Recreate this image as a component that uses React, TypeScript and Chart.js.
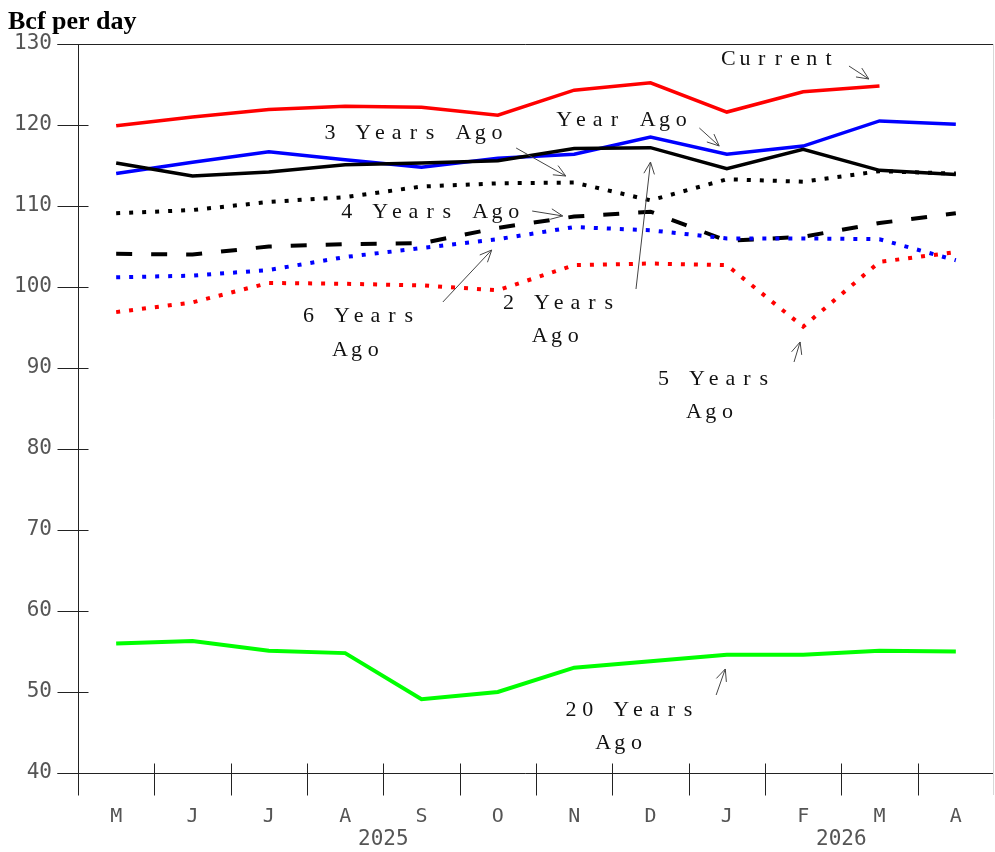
import React, { useEffect, useRef } from "react";
import { Chart, registerables } from "chart.js";

Chart.register(...registerables);

const months = ["M", "J", "J", "A", "S", "O", "N", "D", "J", "F", "M", "A"];
const yearLabels = [
  { afterIndex: 3, text: "2025" },
  { afterIndex: 9, text: "2026" },
];

const current = [119.9, 121.0, 121.9, 122.3, 122.2, 121.2, 124.3, 125.2, 121.6, 124.1, 124.8, null];
const yearAgo = [114.0, 115.4, 116.7, 115.7, 114.8, 115.9, 116.4, 118.5, 116.4, 117.4, 120.5, 120.1];
const twoYearsAgo = [115.3, 113.7, 114.2, 115.1, 115.3, 115.6, 117.1, 117.2, 114.6, 117.0, 114.4, 113.9];
const threeYearsAgo = [109.1, 109.5, 110.5, 111.1, 112.4, 112.8, 112.9, 110.7, 113.3, 113.0, 114.3, 114.0];
const fourYearsAgo = [104.1, 104.0, 105.0, 105.3, 105.4, 107.3, 108.7, 109.3, 105.7, 106.2, 107.9, 109.1];
const fiveYearsAgo = [96.9, 98.1, 100.5, 100.4, 100.2, 99.6, 102.7, 102.9, 102.7, 95.1, 103.1, 104.3];
const sixYearsAgo = [101.2, 101.4, 102.1, 103.7, 104.8, 105.9, 107.4, 107.0, 106.0, 106.0, 105.9, 103.3];
const twentyYearsAgo = [56.0, 56.3, 55.1, 54.8, 49.1, 50.0, 53.0, 53.8, 54.6, 54.6, 55.1, 55.0];

const yMin = 40;
const yMax = 130;
const yStep = 10;

// Annotation labels: anchor in data coords (category index, value)
const annotationTexts = [
  { text: "Current", x: 8.02, y: 128.15 },
  { text: "Year Ago", x: 5.87, y: 120.62 },
  { text: "3 Years Ago", x: 2.8, y: 119.01 },
  { text: "4 Years Ago", x: 3.02, y: 109.26 },
  { text: "6 Years", x: 2.52, y: 96.42 },
  { text: "Ago", x: 2.93, y: 92.22 },
  { text: "2 Years", x: 5.14, y: 98.02 },
  { text: "Ago", x: 5.55, y: 93.95 },
  { text: "5 Years", x: 7.17, y: 88.64 },
  { text: "Ago", x: 7.57, y: 84.57 },
  { text: "20 Years", x: 5.96, y: 47.78 },
  { text: "Ago", x: 6.38, y: 43.7 },
];

const annotationArrows = [
  { x1: 9.6, y1: 127.28, x2: 9.86, y2: 125.68 },
  { x1: 7.64, y1: 119.63, x2: 7.9, y2: 117.41 },
  { x1: 5.24, y1: 117.16, x2: 5.89, y2: 113.7 },
  { x1: 5.45, y1: 109.38, x2: 5.85, y2: 108.77 },
  { x1: 4.28, y1: 98.15, x2: 4.92, y2: 104.57 },
  { x1: 6.81, y1: 99.75, x2: 7.0, y2: 115.43 },
  { x1: 8.88, y1: 90.74, x2: 8.96, y2: 93.21 },
  { x1: 7.86, y1: 49.63, x2: 7.98, y2: 52.84 },
];

const decorPlugin = {
  id: "decor",
  afterDraw(chart: any) {
    const ctx = chart.ctx as CanvasRenderingContext2D;
    const xs = chart.scales.x;
    const ys = chart.scales.y;
    const a = chart.chartArea;
    const px = (i: number) => {
      const p0 = xs.getPixelForValue(0);
      const p1 = xs.getPixelForValue(1);
      return p0 + (p1 - p0) * i;
    };
    const py = (v: number) => ys.getPixelForValue(v);

    ctx.save();
    ctx.lineWidth = 1;
    ctx.strokeStyle = "#d8d8d8";
    ctx.beginPath();
    ctx.moveTo(Math.round(a.right) - 0.5, a.top);
    ctx.lineTo(Math.round(a.right) - 0.5, a.bottom + 22);
    ctx.stroke();

    ctx.strokeStyle = "#222";
    ctx.beginPath();
    const L = Math.round(a.left) + 0.5;
    const T = Math.round(a.top) + 0.5;
    const B = Math.round(a.bottom) + 0.5;
    ctx.moveTo(L - 21, T);
    ctx.lineTo(a.right - 1, T);
    ctx.moveTo(L, T);
    ctx.lineTo(L, B + 22);
    ctx.moveTo(L - 21, B);
    ctx.lineTo(a.right - 1, B);
    ys.ticks.forEach((t: any) => {
      const y = Math.round(py(t.value)) + 0.5;
      ctx.moveTo(L - 21, y);
      ctx.lineTo(L + 10, y);
    });
    for (let i = 1; i < months.length; i++) {
      const x = Math.round(px(i - 0.5)) + 0.5;
      ctx.moveTo(x, B - 10);
      ctx.lineTo(x, B + 22);
    }
    ctx.stroke();

    // years
    ctx.fillStyle = "#555";
    ctx.font = '21px "DejaVu Sans Mono"';
    ctx.textAlign = "center";
    ctx.textBaseline = "middle";
    yearLabels.forEach((yl) => {
      ctx.fillText(yl.text, px(yl.afterIndex + 0.5), 840);
    });

    // title
    ctx.fillStyle = "#000";
    ctx.font = 'bold 26px "Liberation Serif"';
    ctx.textAlign = "left";
    ctx.fillText("Bcf per day", 8, 22);

    // annotation texts (fixed pitch)
    ctx.fillStyle = "#111";
    ctx.font = '22px "Liberation Serif"';
    ctx.textAlign = "center";
    const pitch = 16.7;
    annotationTexts.forEach((an) => {
      const x0 = px(an.x);
      const y0 = py(an.y);
      for (let k = 0; k < an.text.length; k++) {
        ctx.fillText(an.text[k], x0 + k * pitch, y0);
      }
    });

    // arrows
    ctx.strokeStyle = "#444";
    ctx.lineWidth = 1;
    annotationArrows.forEach((ar) => {
      const x1 = px(ar.x1), y1 = py(ar.y1), x2 = px(ar.x2), y2 = py(ar.y2);
      const ang = Math.atan2(y2 - y1, x2 - x1);
      const h = 13;
      const spread = 0.42;
      ctx.beginPath();
      ctx.moveTo(x1, y1);
      ctx.lineTo(x2, y2);
      ctx.moveTo(x2 - h * Math.cos(ang - spread), y2 - h * Math.sin(ang - spread));
      ctx.lineTo(x2, y2);
      ctx.lineTo(x2 - h * Math.cos(ang + spread), y2 - h * Math.sin(ang + spread));
      ctx.stroke();
    });
    ctx.restore();
  },
};

function ds(label: string, data: (number | null)[], color: string, width: number, dash: number[]) {
  return {
    label,
    data,
    borderColor: color,
    backgroundColor: color,
    borderWidth: width,
    borderDash: dash,
    borderCapStyle: "butt" as const,
    pointRadius: 0,
    tension: 0,
    fill: false,
    spanGaps: false,
  };
}

export default function App() {
  const ref = useRef<HTMLCanvasElement | null>(null);
  useEffect(() => {
    document.body.style.margin = "0";
    if (!ref.current) return;
    const chart = new Chart(ref.current, {
      type: "line",
      data: {
        labels: months,
        datasets: [
          ds("20 Years Ago", twentyYearsAgo, "#00ff00", 4, []),
          ds("5 Years Ago", fiveYearsAgo, "#ff0000", 4, [4, 9]),
          ds("6 Years Ago", sixYearsAgo, "#0000ff", 4, [4, 9]),
          ds("4 Years Ago", fourYearsAgo, "#000000", 4, [16, 19]),
          ds("3 Years Ago", threeYearsAgo, "#000000", 4, [4, 9]),
          ds("2 Years Ago", twoYearsAgo, "#000000", 3.5, []),
          ds("Year Ago", yearAgo, "#0000ff", 3.5, []),
          ds("Current", current, "#ff0000", 3.5, []),
        ],
      },
      options: {
        responsive: false,
        animation: false,
        layout: { padding: { top: 44, right: 1, left: 0, bottom: 0 } },
        plugins: { legend: { display: false }, tooltip: { enabled: false }, title: { display: false } },
        scales: {
          x: {
            type: "category",
            offset: true,
            grid: { display: false, drawTicks: false },
            border: { display: false },
            ticks: {
              color: "#555",
              font: { family: "DejaVu Sans Mono", size: 20 },
              padding: 32,
              maxRotation: 0,
              autoSkip: false,
            },
            afterFit: (s: any) => {
              s.height = 79;
            },
          },
          y: {
            min: yMin,
            max: yMax,
            grid: { display: false, drawTicks: false },
            border: { display: false },
            ticks: {
              stepSize: yStep,
              color: "#555",
              font: { family: "DejaVu Sans Mono", size: 21 },
              padding: 26,
            },
            afterFit: (s: any) => {
              s.width = 78;
            },
          },
        },
      },
      plugins: [decorPlugin],
    });
    return () => chart.destroy();
  }, []);
  return <canvas ref={ref} width={995} height={852} style={{ display: "block" }} />;
}
